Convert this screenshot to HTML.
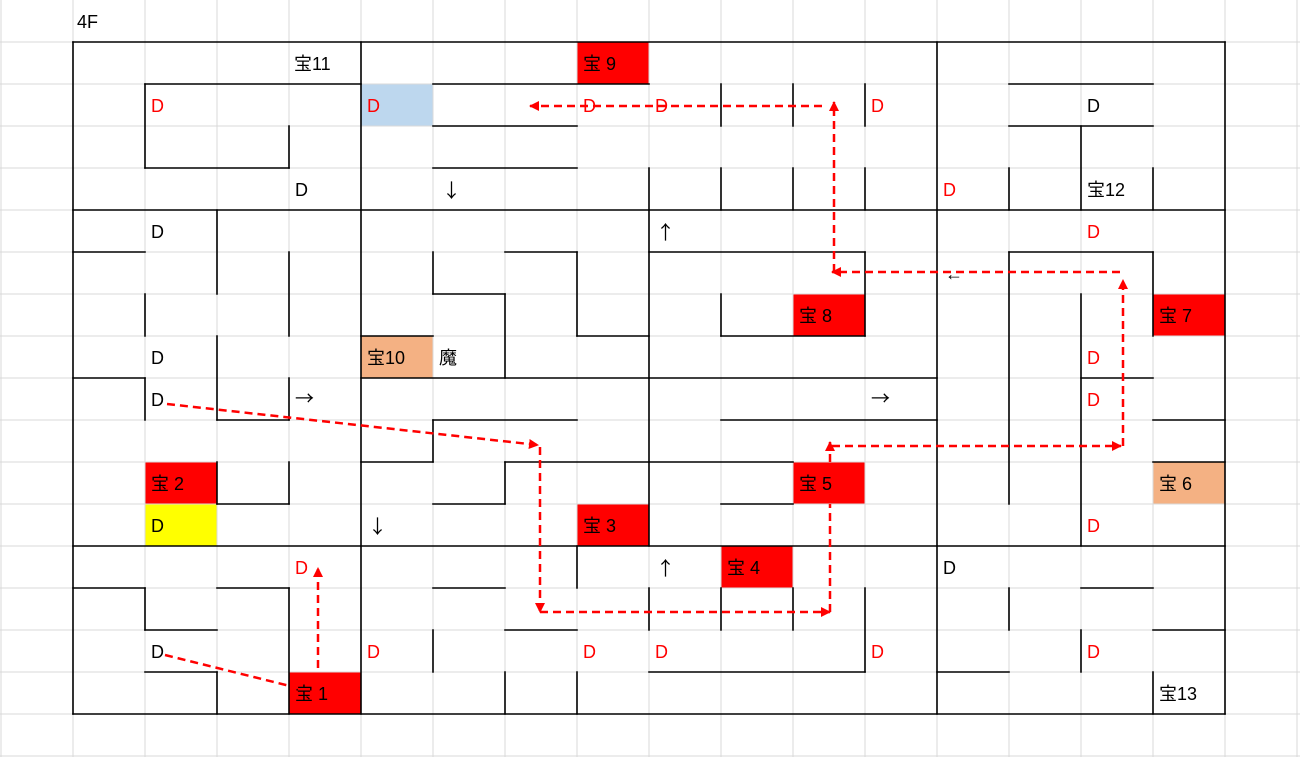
<!DOCTYPE html>
<html><head><meta charset="utf-8"><style>
html,body{margin:0;padding:0;background:#fff;}
svg{display:block;}
text{font-family:"Liberation Sans","Noto Sans CJK JP",sans-serif;font-size:18px;}
text.ar{font-family:"Noto Sans CJK JP",sans-serif;font-size:19px;}
</style></head><body>
<svg width="1300" height="757" viewBox="0 0 1300 757" xmlns="http://www.w3.org/2000/svg">
<defs>
<marker id="ah" viewBox="0 0 10 10" refX="9" refY="5" markerWidth="4" markerHeight="4" orient="auto" markerUnits="strokeWidth"><path d="M0,0 L10,5 L0,10 z" fill="#ff0000"/></marker>
</defs>
<g>
<rect x="577" y="42" width="72" height="42" fill="#ff0000"/>
<rect x="361" y="84" width="72" height="42" fill="#bdd7ee"/>
<rect x="793" y="294" width="72" height="42" fill="#ff0000"/>
<rect x="1153" y="294" width="72" height="42" fill="#ff0000"/>
<rect x="361" y="336" width="72" height="42" fill="#f4b183"/>
<rect x="145" y="462" width="72" height="42" fill="#ff0000"/>
<rect x="793" y="462" width="72" height="42" fill="#ff0000"/>
<rect x="1153" y="462" width="72" height="42" fill="#f4b183"/>
<rect x="145" y="504" width="72" height="42" fill="#ffff00"/>
<rect x="577" y="504" width="72" height="42" fill="#ff0000"/>
<rect x="721" y="546" width="72" height="42" fill="#ff0000"/>
<rect x="289" y="672" width="72" height="42" fill="#ff0000"/>
</g>
<g stroke="#d9d9d9" stroke-width="1">
<path d="M1,0V757M73,0V757M145,0V757M217,0V757M289,0V757M361,0V757M433,0V757M505,0V757M577,0V757M649,0V757M721,0V757M793,0V757M865,0V757M937,0V757M1009,0V757M1081,0V757M1153,0V757M1225,0V757M1297,0V757"/>
<path d="M0,42H1300M0,84H1300M0,126H1300M0,168H1300M0,210H1300M0,252H1300M0,294H1300M0,336H1300M0,378H1300M0,420H1300M0,462H1300M0,504H1300M0,546H1300M0,588H1300M0,630H1300M0,672H1300M0,714H1300M0,756H1300"/>
</g>
<g stroke="#000" stroke-width="1.6" fill="none" stroke-linecap="square">
<path d="M73,42H1225 M145,84H361 M433,84H649 M1009,84H1153 M433,126H577 M1009,126H1153 M145,168H289 M433,168H577 M73,210H1225
M73,252H145 M505,252H577 M649,252H865 M1009,252H1153 M433,294H505 M361,336H433 M577,336H649 M721,336H865
M73,378H145 M361,378H937 M1081,378H1153 M217,420H289 M433,420H577 M721,420H937 M1153,420H1225
M361,462H433 M505,462H793 M1153,462H1225 M217,504H289 M433,504H505 M721,504H793 M73,546H1225
M73,588H145 M217,588H289 M433,588H505 M1081,588H1153 M145,630H217 M505,630H577 M1153,630H1225
M145,672H217 M649,672H865 M937,672H1009 M73,714H1225"/>
<path d="M73,42V714 M145,84V168 M145,294V336 M145,378V420 M145,588V630
M217,210V294 M217,336V420 M217,462V504 M217,672V714
M289,126V168 M289,252V336 M289,378V420 M289,462V504 M289,588V714
M361,42V714 M433,252V294 M433,420V462 M433,630V672
M505,294V378 M505,462V504 M505,672V714
M577,252V336 M577,546V588 M577,672V714
M649,168V546 M649,588V630
M721,84V126 M721,168V210 M721,294V336 M721,588V630
M793,84V126 M793,168V210 M793,588V630
M865,84V126 M865,168V210 M865,252V336 M865,588V672
M937,42V714 M1009,168V210 M1009,252V504 M1009,588V630
M1081,126V210 M1081,294V546 M1081,630V672
M1153,168V210 M1153,252V336 M1153,672V714 M1225,42V714"/>
</g>
<g fill="#000">
<text x="77" y="28">4F</text>
<text x="294" y="70">宝11</text>
<text x="583" y="70">宝 9</text>
<text x="295" y="196">D</text>
<text class="ar" x="442" y="197">↓</text>
<text x="1087" y="112">D</text>
<text x="1087" y="196">宝12</text>
<text x="151" y="238">D</text>
<text class="ar" x="656" y="239">↑</text>
<text x="799" y="322">宝 8</text>
<text x="1159" y="322">宝 7</text>
<text x="151" y="364">D</text>
<text x="367" y="364">宝10</text>
<text x="439" y="364">魔</text>
<text x="151" y="406">D</text>
<text class="ar" x="295" y="405">→</text>
<text class="ar" x="871" y="405">→</text>
<text x="151" y="490">宝 2</text>
<text x="799" y="490">宝 5</text>
<text x="1159" y="490">宝 6</text>
<text x="151" y="532">D</text>
<text class="ar" x="368" y="533">↓</text>
<text x="583" y="532">宝 3</text>
<text class="ar" x="656" y="575">↑</text>
<text x="727" y="574">宝 4</text>
<text x="943" y="574">D</text>
<text x="151" y="658">D</text>
<text x="295" y="700">宝 1</text>
<text x="1159" y="700">宝13</text>
<text x="945" y="280" font-size="12">←</text>
</g>
<g fill="#ff0000">
<text x="151" y="112">D</text>
<text x="367" y="112">D</text>
<text x="583" y="112">D</text>
<text x="655" y="112">D</text>
<text x="871" y="112">D</text>
<text x="943" y="196">D</text>
<text x="1087" y="238">D</text>
<text x="1087" y="364">D</text>
<text x="1087" y="406">D</text>
<text x="1087" y="532">D</text>
<text x="295" y="574">D</text>
<text x="367" y="658">D</text>
<text x="583" y="658">D</text>
<text x="655" y="658">D</text>
<text x="871" y="658">D</text>
<text x="1087" y="658">D</text>
</g>
<g stroke="#ff0000" stroke-width="2.5" stroke-dasharray="8,5" fill="none">
<path d="M165,655 L298,688"/>
<path d="M318,668 L318,568" marker-end="url(#ah)"/>
<path d="M167,404 L538,445" marker-end="url(#ah)"/>
<path d="M540,447 L540,612" marker-end="url(#ah)"/>
<path d="M540,612 L830,612" marker-end="url(#ah)"/>
<path d="M830,612 L830,504"/>
<path d="M830,462 L830,442" marker-end="url(#ah)"/>
<path d="M832,446 L1121,446" marker-end="url(#ah)"/>
<path d="M1123,446 L1123,280" marker-end="url(#ah)"/>
<path d="M1120,272 L832,272" marker-end="url(#ah)"/>
<path d="M834,272 L834,102" marker-end="url(#ah)"/>
<path d="M822,106 L530,106" marker-end="url(#ah)"/>
</g>
</svg>
</body></html>
